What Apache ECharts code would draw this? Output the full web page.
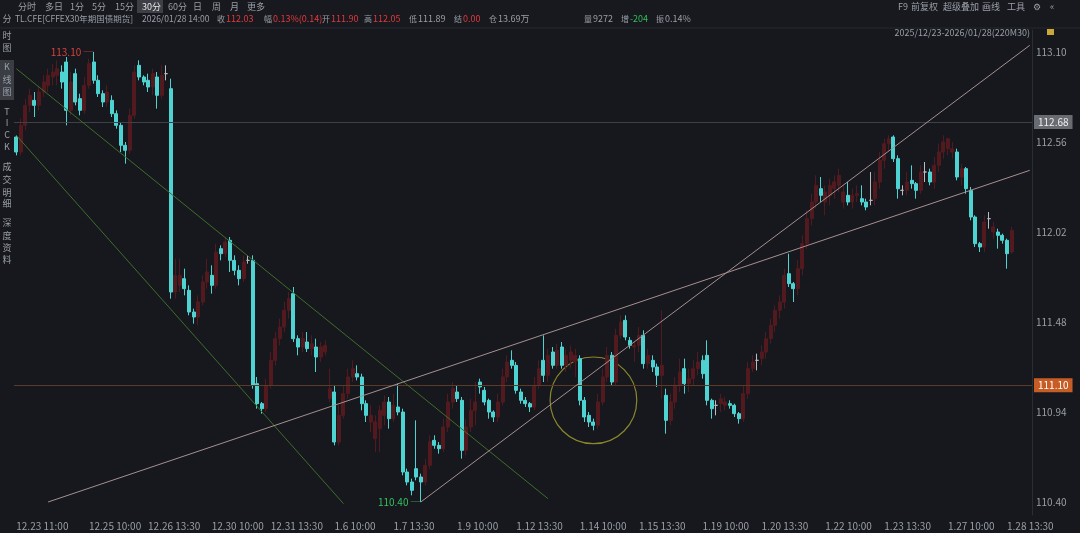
<!DOCTYPE html>
<html>
<head>
<meta charset="utf-8">
<title>TL.CFE 30分 K线</title>
<script src="https://cdn.jsdelivr.net/npm/echarts@6/dist/echarts.min.js"></script>
<style>
  html, body { margin: 0; padding: 0; background: #16181d; }
  #chart { width: 1080px; height: 533px; }
</style>
</head>
<body>
<div id="chart"></div>
<script>
// trading days and 30-minute bar times
const days = ['12.23', '12.24', '12.25', '12.26', '12.29', '12.30', '12.31', '1.5', '1.6', '1.7', '1.8', '1.9',
  '1.12', '1.13', '1.14', '1.15', '1.16', '1.19', '1.20', '1.21', '1.22', '1.23', '1.26', '1.27', '1.28'];
const sessionTimes = ['10:00', '10:30', '11:00', '11:30', '13:30', '14:00', '14:30', '15:00', '15:15'];
const tickLabels = ['12.23 11:00', '12.25 10:00', '12.26 13:30', '12.30 10:00', '12.31 13:30', '1.6 10:00',
  '1.7 13:30', '1.9 10:00', '1.12 13:30', '1.14 10:00', '1.15 13:30', '1.19 10:00', '1.20 13:30',
  '1.22 10:00', '1.23 13:30', '1.27 10:00', '1.28 13:30'];
const priceTicks = [113.10, 112.56, 112.02, 111.48, 110.94, 110.40];

const opens = [
  112.59, 112.50, 112.66, 112.78, 112.81, 112.78, 112.86, 112.90, 112.95, 112.96,
  112.98, 113.04, 112.75, 112.97, 112.82, 112.75, 112.90, 113.04, 112.93, 112.85,
  112.80, 112.81, 112.73, 112.66, 112.54, 112.51, 112.72, 113.02, 112.95, 112.93,
  112.89, 112.95, 112.84, 112.97, 112.88, 111.66, 111.70, 111.74, 111.67, 111.54,
  111.51, 111.60, 111.72, 111.76, 111.70, 111.92, 111.89, 111.97, 111.85, 111.79,
  111.74, 111.85, 111.85, 111.11, 110.99, 110.96, 111.10, 111.25, 111.38, 111.45,
  111.55, 111.65, 111.38, 111.33, 111.36, 111.32, 111.33, 111.27, 111.30, 111.02,
  111.06, 110.76, 110.92, 111.05, 111.15, 111.17, 111.15, 110.99, 110.88, 110.78,
  110.84, 110.92, 111.00, 110.90, 110.97, 110.94, 110.58, 110.52, 110.60, 110.55,
  110.52, 110.62, 110.77, 110.74, 110.72, 110.85, 111.00, 111.06, 111.01, 110.71,
  110.85, 110.95, 111.12, 111.07, 111.01, 110.94, 110.91, 111.00, 111.15, 111.25,
  111.22, 111.06, 111.01, 110.99, 110.97, 111.10, 111.25, 111.16, 111.30, 111.22,
  111.33, 111.22, 111.25, 111.24, 111.26, 111.01, 110.92, 110.88, 110.86, 111.00,
  111.15, 111.28, 111.12, 111.40, 111.49, 111.37, 111.33, 111.34, 111.40, 111.23,
  111.25, 111.21, 111.16, 111.04, 110.89, 111.00, 111.10, 111.20, 111.11, 111.14,
  111.20, 111.25, 111.28, 111.01, 110.98, 110.99, 110.98, 110.99, 110.98, 110.93,
  110.90, 111.05, 111.20, 111.25, 111.26, 111.30, 111.38, 111.46, 111.55, 111.60,
  111.77, 111.71, 111.68, 111.80, 111.95, 112.10, 112.20, 112.28, 112.20, 112.24,
  112.28, 112.30, 112.20, 112.24, 112.20, 112.24, 112.22, 112.20, 112.21, 112.22,
  112.32, 112.45, 112.55, 112.59, 112.46, 112.27, 112.27, 112.33, 112.31, 112.27,
  112.38, 112.38, 112.32, 112.42, 112.50, 112.52, 112.50, 112.50, 112.35, 112.40,
  112.27, 112.11, 111.95, 111.93, 112.10, 112.02, 112.02, 112.00, 111.97, 111.90
];
const closes = [
  112.50, 112.66, 112.78, 112.84, 112.78, 112.86, 112.92, 112.96, 112.98, 113.00,
  112.92, 112.75, 112.92, 112.80, 112.75, 112.90, 113.03, 112.93, 112.85, 112.80,
  112.86, 112.73, 112.66, 112.54, 112.51, 112.72, 112.98, 112.95, 112.92, 112.89,
  112.97, 112.84, 112.96, 112.97, 111.66, 111.76, 111.76, 111.68, 111.54, 111.51,
  111.60, 111.72, 111.78, 111.70, 111.90, 111.89, 111.96, 111.85, 111.79, 111.74,
  111.84, 111.85, 111.10, 110.99, 110.96, 111.10, 111.25, 111.38, 111.45, 111.55,
  111.62, 111.38, 111.33, 111.38, 111.32, 111.35, 111.27, 111.33, 111.34, 111.08,
  110.76, 110.92, 111.05, 111.15, 111.20, 111.15, 110.99, 110.92, 110.92, 110.88,
  110.95, 111.00, 110.90, 110.98, 110.94, 110.58, 110.52, 110.47, 110.55, 110.52,
  110.62, 110.76, 110.74, 110.72, 110.85, 111.00, 111.08, 111.02, 110.71, 110.85,
  110.95, 111.00, 111.09, 111.00, 110.94, 110.91, 111.00, 111.15, 111.24, 111.22,
  111.07, 111.01, 110.99, 110.97, 111.10, 111.20, 111.16, 111.28, 111.22, 111.31,
  111.22, 111.28, 111.30, 111.28, 111.01, 110.91, 110.88, 110.86, 111.00, 111.15,
  111.28, 111.12, 111.40, 111.48, 111.39, 111.34, 111.34, 111.40, 111.23, 111.28,
  111.21, 111.16, 111.22, 110.89, 111.00, 111.10, 111.18, 111.11, 111.14, 111.20,
  111.24, 111.17, 111.01, 110.96, 110.98, 111.02, 111.00, 110.98, 110.93, 110.90,
  111.05, 111.20, 111.24, 111.25, 111.30, 111.38, 111.46, 111.55, 111.60, 111.76,
  111.71, 111.68, 111.80, 111.95, 112.10, 112.20, 112.30, 112.24, 112.26, 112.30,
  112.32, 112.36, 112.26, 112.20, 112.24, 112.25, 112.20, 112.17, 112.21, 112.32,
  112.45, 112.55, 112.58, 112.46, 112.28, 112.27, 112.32, 112.31, 112.27, 112.38,
  112.38, 112.32, 112.42, 112.50, 112.56, 112.58, 112.52, 112.35, 112.40, 112.28,
  112.11, 111.95, 111.93, 112.08, 112.10, 112.05, 112.00, 111.97, 111.89, 112.03
];
const lows = [
  112.48, 112.48, 112.63, 112.74, 112.71, 112.75, 112.83, 112.86, 112.90, 112.90,
  112.88, 112.66, 112.72, 112.78, 112.72, 112.73, 112.88, 112.91, 112.83, 112.77,
  112.77, 112.71, 112.64, 112.50, 112.43, 112.49, 112.70, 112.93, 112.90, 112.86,
  112.84, 112.76, 112.82, 112.93, 111.62, 111.62, 111.66, 111.64, 111.52, 111.47,
  111.46, 111.58, 111.68, 111.65, 111.68, 111.85, 111.87, 111.78, 111.76, 111.70,
  111.72, 111.83, 111.08, 110.96, 110.93, 110.94, 111.08, 111.22, 111.34, 111.42,
  111.50, 111.36, 111.28, 111.30, 111.30, 111.28, 111.18, 111.24, 111.28, 111.00,
  110.74, 110.74, 110.90, 111.02, 111.12, 111.13, 110.95, 110.88, 110.82, 110.70,
  110.70, 110.86, 110.84, 110.88, 110.92, 110.56, 110.50, 110.44, 110.53, 110.40,
  110.50, 110.60, 110.72, 110.69, 110.70, 110.82, 110.96, 111.00, 110.66, 110.68,
  110.82, 110.86, 111.05, 110.98, 110.90, 110.88, 110.88, 110.98, 111.12, 111.20,
  111.05, 110.99, 110.97, 110.94, 110.95, 111.08, 111.12, 111.12, 111.20, 111.20,
  111.20, 111.18, 111.20, 111.15, 110.98, 110.88, 110.85, 110.83, 110.84, 110.98,
  111.12, 111.10, 111.10, 111.38, 111.37, 111.32, 111.24, 111.30, 111.20, 111.20,
  111.18, 111.09, 111.02, 110.81, 110.86, 110.96, 111.06, 111.05, 111.06, 111.10,
  111.16, 111.14, 110.98, 110.90, 110.92, 110.94, 110.95, 110.96, 110.91, 110.87,
  110.88, 111.02, 111.18, 111.19, 111.22, 111.26, 111.35, 111.42, 111.50, 111.56,
  111.69, 111.60, 111.64, 111.76, 111.92, 112.06, 112.16, 112.20, 112.12, 112.18,
  112.22, 112.26, 112.16, 112.18, 112.16, 112.20, 112.18, 112.15, 112.18, 112.18,
  112.28, 112.40, 112.50, 112.44, 112.22, 112.24, 112.24, 112.28, 112.22, 112.25,
  112.32, 112.30, 112.28, 112.38, 112.46, 112.48, 112.46, 112.33, 112.30, 112.25,
  112.09, 111.93, 111.90, 111.90, 112.04, 111.98, 111.92, 111.95, 111.80, 111.89
];
const highs = [
  112.60, 112.70, 112.82, 112.88, 112.86, 112.90, 112.96, 113.00, 113.03, 113.05,
  113.02, 113.07, 112.98, 113.00, 112.85, 112.95, 113.06, 113.10, 112.96, 112.87,
  112.90, 112.84, 112.75, 112.68, 112.56, 112.76, 113.02, 113.05, 112.96, 112.97,
  113.00, 112.98, 113.02, 113.02, 112.94, 111.86, 111.86, 111.80, 111.70, 111.56,
  111.64, 111.76, 111.86, 111.82, 111.95, 111.94, 111.99, 111.99, 111.88, 111.82,
  111.88, 111.88, 111.88, 111.15, 111.00, 111.14, 111.30, 111.42, 111.50, 111.60,
  111.66, 111.69, 111.40, 111.42, 111.42, 111.40, 111.38, 111.36, 111.37, 111.20,
  111.10, 110.98, 111.10, 111.20, 111.25, 111.22, 111.17, 111.01, 110.98, 110.92,
  110.98, 111.04, 111.03, 111.05, 111.11, 110.96, 110.60, 110.54, 110.89, 110.57,
  110.66, 110.80, 110.80, 110.76, 110.90, 111.05, 111.12, 111.10, 111.03, 110.90,
  111.02, 111.12, 111.14, 111.09, 111.02, 110.95, 111.05, 111.20, 111.28, 111.31,
  111.24, 111.08, 111.03, 111.00, 111.15, 111.25, 111.40, 111.32, 111.33, 111.35,
  111.36, 111.32, 111.34, 111.32, 111.28, 111.03, 110.94, 110.90, 111.05, 111.20,
  111.33, 111.30, 111.44, 111.52, 111.52, 111.39, 111.36, 111.45, 111.43, 111.32,
  111.28, 111.23, 111.55, 111.08, 111.05, 111.15, 111.26, 111.26, 111.20, 111.25,
  111.30, 111.28, 111.37, 111.02, 111.01, 111.05, 111.03, 111.01, 110.99, 110.94,
  111.10, 111.24, 111.28, 111.29, 111.34, 111.42, 111.50, 111.58, 111.64, 111.80,
  111.89, 111.72, 111.85, 112.00, 112.15, 112.25, 112.36, 112.35, 112.30, 112.34,
  112.36, 112.40, 112.30, 112.32, 112.28, 112.30, 112.30, 112.22, 112.38, 112.38,
  112.50, 112.58, 112.60, 112.60, 112.48, 112.30, 112.38, 112.42, 112.32, 112.42,
  112.44, 112.40, 112.47, 112.55, 112.60, 112.58, 112.56, 112.52, 112.43, 112.41,
  112.29, 112.12, 111.96, 112.12, 112.14, 112.08, 112.04, 112.01, 111.98, 112.05
];

// drawn reference levels and trend lines (bar index, price)
const levelGrey = 112.68;
const levelOrange = 111.10;
const greenLines = [[[0, 113.00], [117, 110.42]], [[0, 112.60], [72, 110.39]]];
const pinkLines = [[[7, 110.40], [223, 112.39]], [[89, 110.40], [223, 113.14]]];
const circleMark = [127, 111.01, 0.26]; // centre bar, centre price, radius in price

const allSlots = days.flatMap(d => sessionTimes.map(t => d + ' ' + t));
const categories = allSlots.slice(2, 2 + opens.length).concat(['', ' ', '  ', '   ']);
const candles = opens.map((o, i) => [o, closes[i], lows[i], highs[i]]);

const FONT = '"Noto Sans CJK SC", "Noto Sans", sans-serif';
const GREY = '#9a9fa8';
const RED = '#e2393d';
const GREEN = '#2fbf5a';

function txt(x, y, text, fill, size, align) {
  return {
    type: 'text', x: x, y: y, silent: true,
    style: { text: text, fill: fill || GREY, fontSize: size || 9, fontFamily: FONT,
      verticalAlign: 'middle', align: align || 'left' }
  };
}

const last = opens.length - 1;
const graphics = [
  { type: 'rect', shape: { x: 0, y: 0, width: 1080, height: 28 }, style: { fill: '#17191e' }, silent: true },
  { type: 'line', shape: { x1: 0, y1: 28, x2: 1080, y2: 28 }, style: { stroke: '#25282e', lineWidth: 1 }, silent: true },
  { type: 'rect', shape: { x: 137, y: 0, width: 26, height: 13 }, style: { fill: '#3c3f46' }, silent: true },
  { type: 'rect', shape: { x: 0, y: 60, width: 14, height: 40 }, style: { fill: '#3a3d44' }, silent: true },
  txt(18, 7, '分时'), txt(45, 7, '多日'), txt(70, 7, '1分'), txt(92, 7, '5分'), txt(115, 7, '15分'),
  txt(142, 7, '30分', '#e6e6e6'), txt(168, 7, '60分'), txt(193, 7, '日'), txt(212, 7, '周'),
  txt(230, 7, '月'), txt(247, 7, '更多'),
  txt(898, 7, 'F9'), txt(911, 7, '前复权'), txt(943, 7, '超级叠加'), txt(982, 7, '画线'),
  txt(1007, 7, '工具'), txt(1033, 7, '⚙'), txt(1050, 7, '«'),
  txt(15, 19, 'TL.CFE[CFFEX30年期国债期货]', GREY, 8.5), txt(142, 19, '2026/01/28 14:00', GREY, 8.5),
  txt(217, 19, '收', GREY, 8), txt(226, 19, closes[last].toFixed(2), RED),
  txt(264, 19, '幅', GREY, 8), txt(273, 19, '0.13%(0.14)', RED),
  txt(322, 19, '开', GREY, 8), txt(331, 19, opens[last].toFixed(2), RED),
  txt(364, 19, '高', GREY, 8), txt(373, 19, highs[last].toFixed(2), RED),
  txt(409, 19, '低', GREY, 8), txt(418, 19, lows[last].toFixed(2)),
  txt(454, 19, '结', GREY, 8), txt(463, 19, '0.00', RED),
  txt(489, 19, '仓', GREY, 8), txt(498, 19, '13.69万'),
  txt(584, 19, '量', GREY, 8), txt(593, 19, '9272'),
  txt(621, 19, '增', GREY, 8), txt(630, 19, '-204', GREEN),
  txt(656, 19, '振', GREY, 8), txt(665, 19, '0.14%'),
  txt(1030, 33, '2025/12/23-2026/01/28(220M30)', GREY, 9, 'right'),
  { type: 'rect', shape: { x: 1047, y: 29, width: 7, height: 6 }, style: { fill: '#c9a834' }, silent: true }
];
// vertical sidebar labels
[['分', 19], ['时', 36], ['图', 48], ['K', 67], ['线', 80], ['图', 92], ['T', 112], ['I', 123],
 ['C', 135], ['K', 147], ['成', 167], ['交', 180], ['明', 193], ['细', 204], ['深', 223],
 ['度', 236], ['资', 248], ['料', 260]].forEach(([c, y]) => graphics.push(txt(7, y, c, GREY, 9, 'center')));

const markLines = [
  { yAxis: levelGrey, lineStyle: { color: '#3e4148', width: 1, type: 'solid' },
    label: { show: true, position: 'end', distance: 2, formatter: levelGrey.toFixed(2), color: '#eeeeee',
      backgroundColor: '#686b72', padding: [2, 4], fontSize: 10, fontFamily: FONT } },
  { yAxis: levelOrange, lineStyle: { color: '#5c3a28', width: 1, type: 'solid' },
    label: { show: true, position: 'end', distance: 2, formatter: levelOrange.toFixed(2), color: '#ffffff',
      backgroundColor: '#c75d25', padding: [2, 4], fontSize: 10, fontFamily: FONT } }
];
greenLines.forEach(l => markLines.push([
  { coord: l[0], lineStyle: { color: '#3f6d2c', width: 1, type: 'solid' } }, { coord: l[1] }
]));
pinkLines.forEach(l => markLines.push([
  { coord: l[0], lineStyle: { color: '#a88f8f', width: 1, type: 'solid' } }, { coord: l[1] }
]));

const chart = echarts.init(document.getElementById('chart'));
chart.setOption({
  backgroundColor: '#16181d',
  animation: false,
  textStyle: { fontFamily: FONT },
  graphic: graphics,
  grid: { left: 14, right: 48, top: 30, bottom: 18 },
  xAxis: {
    type: 'category',
    data: categories,
    boundaryGap: true,
    axisLine: { show: false },
    axisTick: { show: false },
    splitLine: { show: false },
    axisLabel: {
      interval: (i, v) => tickLabels.indexOf(v) >= 0,
      align: 'left', color: GREY, fontSize: 10, margin: 6
    }
  },
  yAxis: {
    type: 'value',
    position: 'right',
    min: 110.322,
    max: 113.232,
    scale: true,
    axisLine: { show: true, lineStyle: { color: '#2a2d34' } },
    axisTick: { show: false },
    splitLine: { show: false },
    axisLabel: {
      customValues: priceTicks,
      formatter: v => v.toFixed(2),
      color: GREY, fontSize: 10, margin: 4, align: 'left'
    }
  },
  series: [
    {
      type: 'candlestick',
      data: candles,
      barWidth: 3.5,
      itemStyle: {
        color: '#521a1f', color0: '#4dd4d2',
        borderColor: '#521a1f', borderColor0: '#4dd4d2',
        borderColorDoji: '#b8bcc4', borderWidth: 1
      },
      markPoint: {
        symbol: 'rect', symbolSize: 0.1, silent: true,
        data: [
          { type: 'max', valueDim: 'highest',
            label: { position: 'left', distance: 0, color: '#d8413c', fontSize: 10, formatter: p => p.value.toFixed(2) + ' ─' } },
          { type: 'min', valueDim: 'lowest',
            label: { position: 'left', distance: 0, color: '#33c25e', fontSize: 10, formatter: p => p.value.toFixed(2) + ' ─' } }
        ]
      },
      markLine: {
        symbol: ['none', 'none'], silent: true, animation: false,
        label: { show: false },
        data: markLines
      }
    },
    {
      type: 'custom',
      data: [circleMark],
      encode: { x: 0, y: 1 },
      silent: true,
      renderItem: (params, api) => {
        const c = api.coord([api.value(0), api.value(1)]);
        const r = api.size([0, api.value(2)])[1];
        return { type: 'circle', shape: { cx: c[0], cy: c[1], r: r },
          style: { fill: 'none', stroke: '#8c872c', lineWidth: 1.2 } };
      }
    }
  ]
});
</script>
</body>
</html>
